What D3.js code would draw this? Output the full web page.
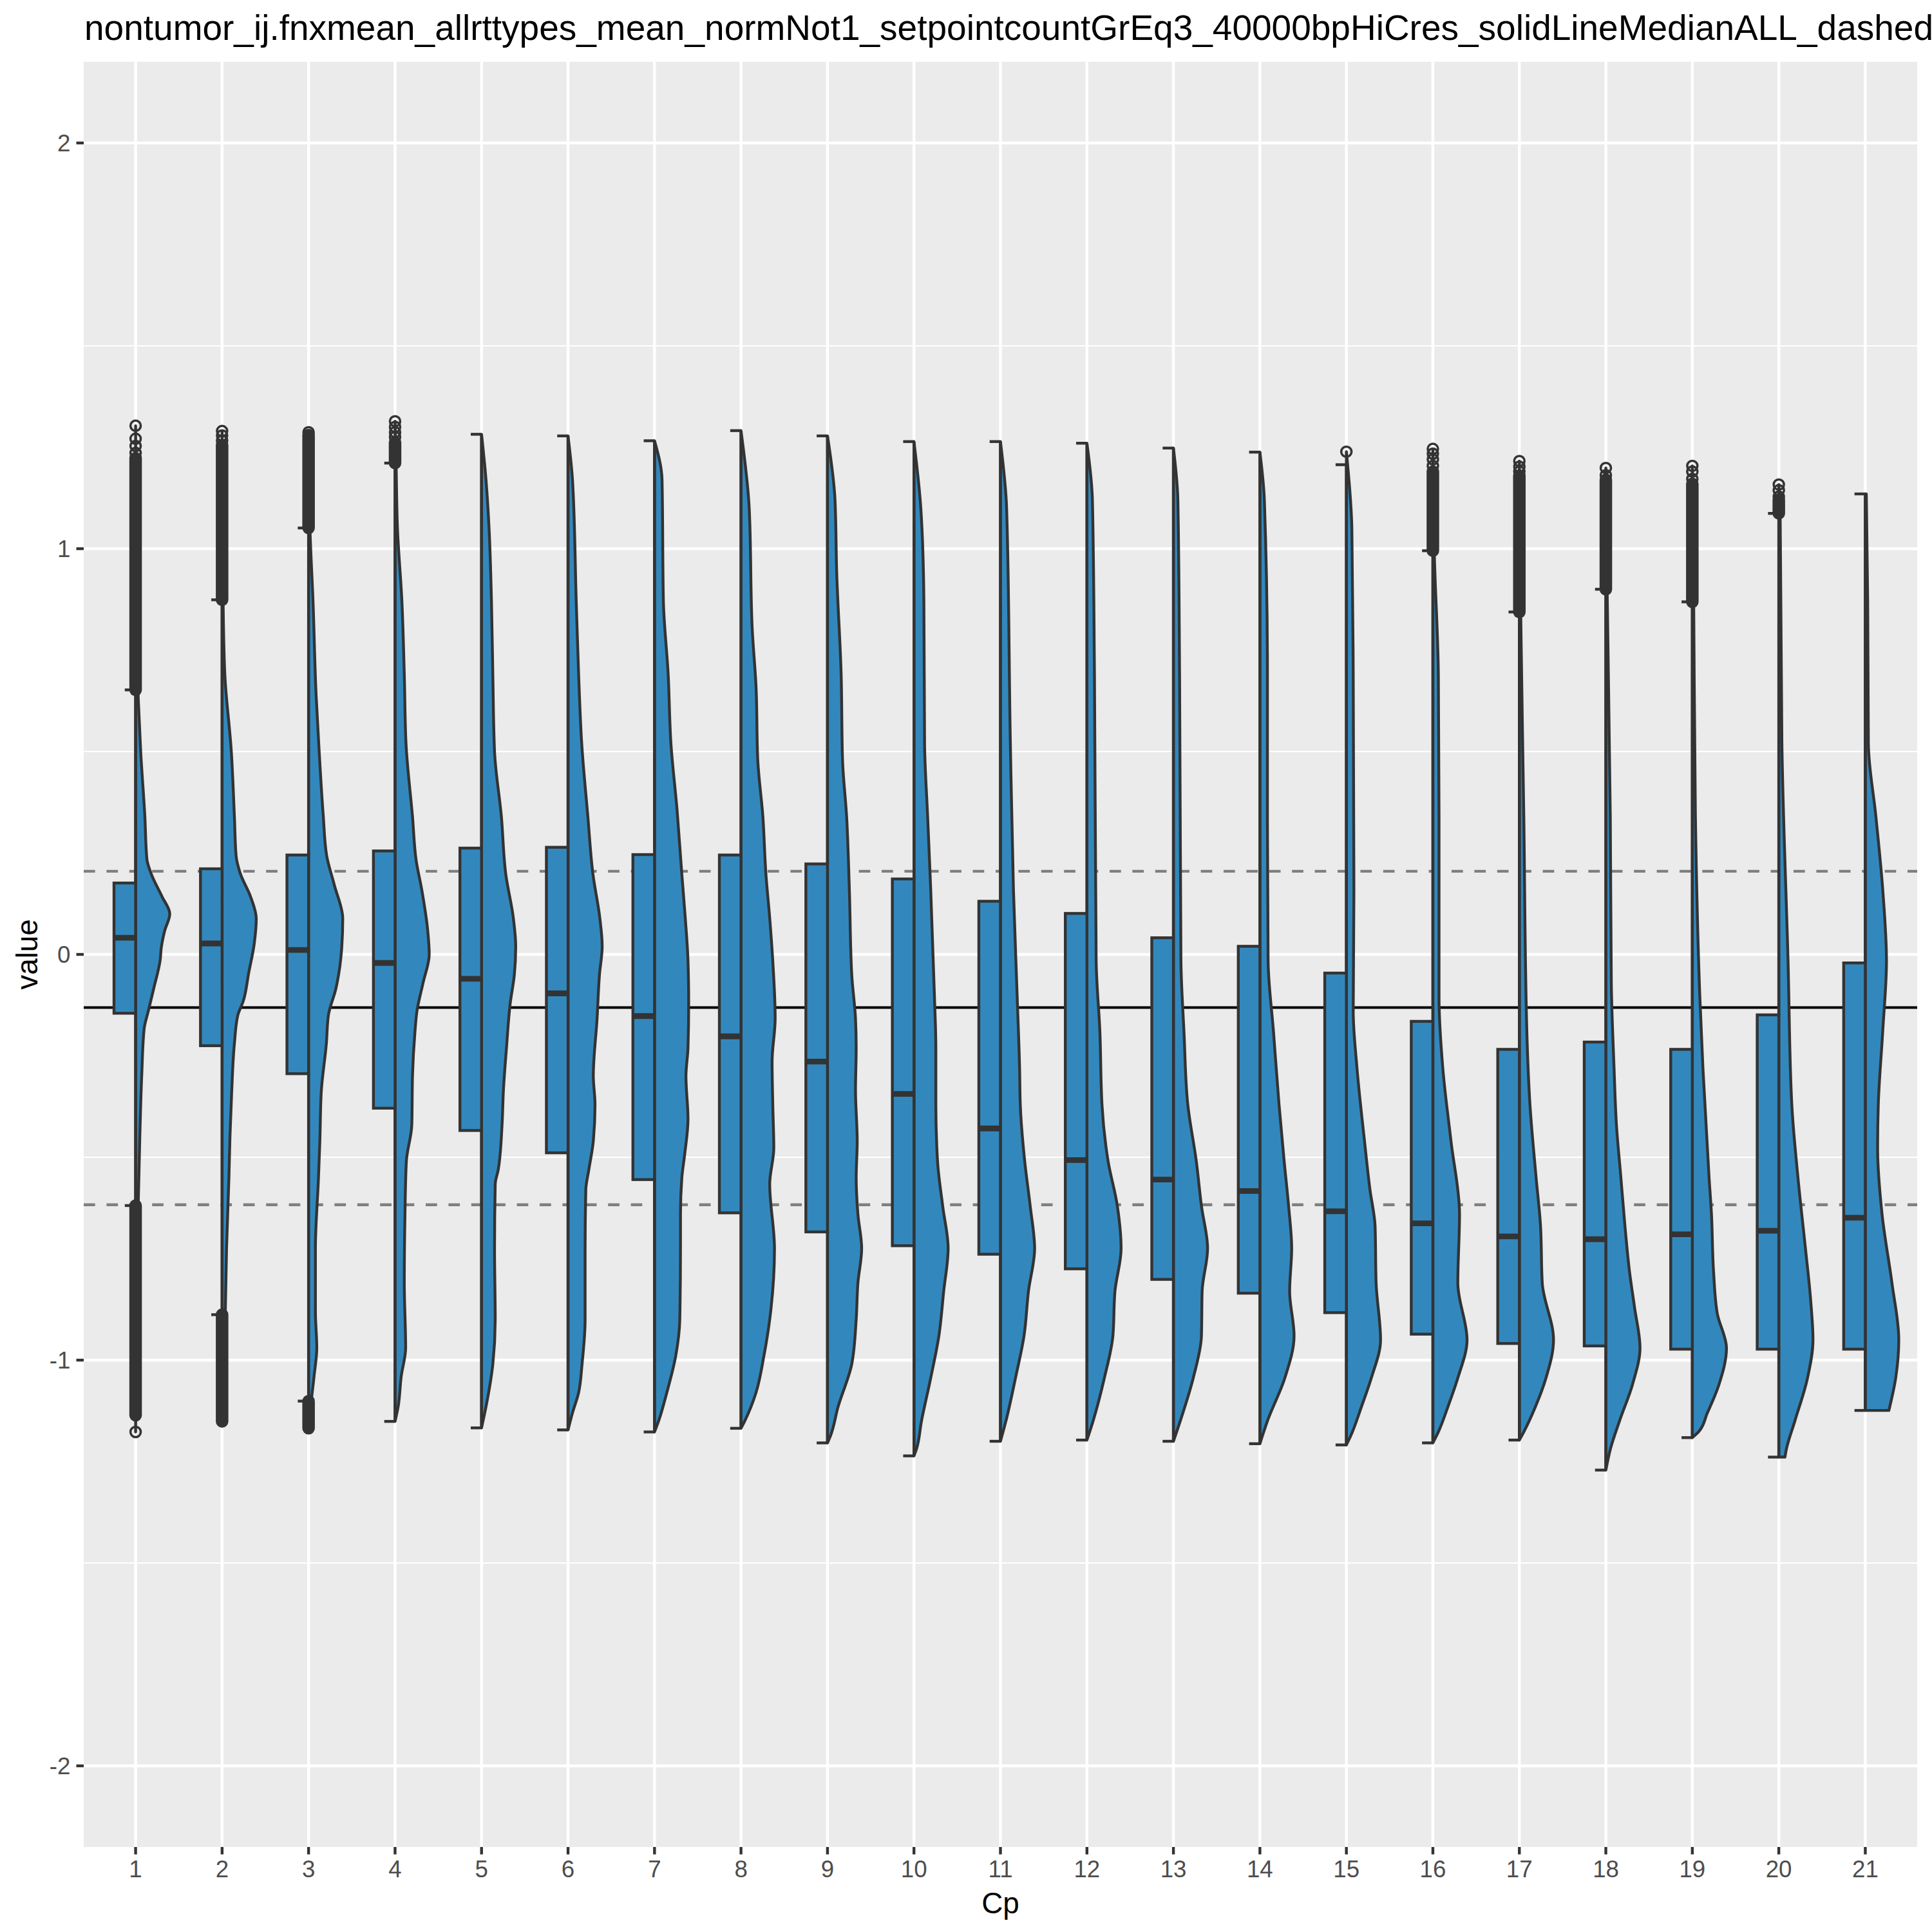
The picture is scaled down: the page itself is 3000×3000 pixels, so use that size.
<!DOCTYPE html>
<html><head><meta charset="utf-8">
<script src="https://cdn.jsdelivr.net/npm/d3@7"></script>
<style>body{margin:0;background:#fff}</style></head>
<body>
<svg id="chart" width="3000" height="3000"></svg>
<script>
// ---------------- data ----------------
const categories = ["1","2","3","4","5","6","7","8","9","10","11","12","13","14","15","16","17","18","19","20","21"];
const whiskerLow  = [-0.619,-0.888,-1.101,-1.151,-1.167,-1.172,-1.177,-1.168,-1.204,-1.236,-1.200,-1.197,-1.200,-1.206,-1.209,-1.204,-1.197,-1.271,-1.191,-1.239,-1.124];
const q1          = [-0.145,-0.225,-0.294,-0.379,-0.434,-0.489,-0.555,-0.637,-0.684,-0.718,-0.739,-0.775,-0.801,-0.835,-0.883,-0.936,-0.959,-0.965,-0.973,-0.973,-0.973];
const medians     = [0.041,0.027,0.011,-0.021,-0.060,-0.096,-0.152,-0.202,-0.264,-0.344,-0.429,-0.507,-0.555,-0.583,-0.633,-0.663,-0.695,-0.702,-0.690,-0.681,-0.649];
const q3          = [0.176,0.211,0.245,0.255,0.262,0.264,0.246,0.245,0.223,0.186,0.131,0.101,0.041,0.020,-0.046,-0.165,-0.234,-0.216,-0.234,-0.149,-0.021];
const whiskerHigh = [0.652,0.874,1.051,1.211,1.282,1.278,1.266,1.291,1.278,1.264,1.264,1.260,1.248,1.238,1.207,0.995,0.844,0.900,0.869,1.087,1.135];

// dense runs of overlapping outlier circles [from, to], and separately visible outliers
const outlierRunTop = [[0.652,1.223],[0.874,1.255],[1.051,1.280],[1.211,1.262],null,null,null,null,null,null,null,null,null,null,null,[0.995,1.190],[0.844,1.180],[0.900,1.170],[0.869,1.160],[1.087,1.120],null];
const outlierPtsTop = [[1.236,1.253,1.271,1.303],[1.266,1.279,1.290],[1.287],[1.275,1.287,1.300,1.314],[],[],[],[],[],[],[],[],[],[],[1.239],[1.204,1.220,1.234,1.246],[1.190,1.202,1.216],[1.181,1.199],[1.172,1.190,1.204],[1.128,1.144,1.158],[]];
const outlierRunBottom = [[-1.136,-0.619],[-1.151,-0.888],[-1.168,-1.101],null,null,null,null,null,null,null,null,null,null,null,null,null,null,null,null,null,null];
const outlierPtsBottom = [[-1.177],[],[],[],[],[],[],[],[],[],[],[],[],[],[],[],[],[],[],[],[]];

// half-violin profiles: [value, relative width]
const violinProfiles = [
 [[1.303,0],[0.9,0.02],[0.626,0.08],[0.498,0.15],[0.341,0.27],[0.235,0.33],[0.2,0.45],[0.143,0.77],[0.10,1.0],[0.058,0.85],[0.016,0.75],[-0.013,0.72],[-0.084,0.53],[-0.14,0.37],[-0.183,0.25],[-0.296,0.18],[-0.46,0.12],[-0.64,0.07],[-0.9,0.03],[-1.177,0]],
 [[1.290,0],[0.87,0.03],[0.69,0.08],[0.5,0.27],[0.34,0.36],[0.243,0.41],[0.2,0.53],[0.143,0.83],[0.088,1.0],[0.026,0.94],[-0.045,0.78],[-0.115,0.62],[-0.15,0.46],[-0.22,0.36],[-0.34,0.28],[-0.45,0.23],[-0.55,0.2],[-0.725,0.13],[-0.9,0.09],[-1.08,0.07],[-1.151,0]],
 [[1.287,0],[1.05,0.04],[0.87,0.13],[0.64,0.22],[0.5,0.31],[0.341,0.43],[0.243,0.53],[0.172,0.75],[0.088,1.0],[0.016,0.97],[-0.084,0.8],[-0.15,0.58],[-0.22,0.52],[-0.34,0.37],[-0.46,0.33],[-0.55,0.29],[-0.725,0.2],[-0.88,0.2],[-0.97,0.24],[-1.04,0.16],[-1.115,0.06],[-1.168,0]],
 [[1.314,0],[1.21,0.03],[1.05,0.07],[0.87,0.2],[0.69,0.27],[0.52,0.32],[0.34,0.51],[0.23,0.62],[0.16,0.78],[0.055,0.96],[0.0,1.0],[-0.07,0.82],[-0.14,0.64],[-0.193,0.58],[-0.30,0.51],[-0.42,0.49],[-0.51,0.33],[-0.64,0.29],[-0.81,0.27],[-0.97,0.31],[-1.04,0.18],[-1.115,0.09],[-1.151,0]],
 [[1.282,0],[1.17,0.13],[1.05,0.22],[0.87,0.29],[0.69,0.33],[0.5,0.38],[0.34,0.58],[0.197,0.71],[0.09,0.93],[0.02,1.0],[-0.05,0.96],[-0.12,0.84],[-0.23,0.73],[-0.335,0.64],[-0.42,0.6],[-0.53,0.49],[-0.566,0.4],[-0.725,0.38],[-0.9,0.4],[-1.01,0.33],[-1.115,0.13],[-1.167,0]],
 [[1.278,0],[1.17,0.13],[0.87,0.24],[0.69,0.31],[0.52,0.4],[0.34,0.58],[0.197,0.73],[0.09,0.93],[0.02,1.0],[-0.05,0.92],[-0.158,0.85],[-0.30,0.74],[-0.37,0.79],[-0.46,0.74],[-0.53,0.61],[-0.58,0.52],[-0.725,0.5],[-0.9,0.5],[-1.01,0.41],[-1.08,0.31],[-1.13,0.13],[-1.172,0]],
 [[1.266,0],[1.17,0.22],[0.87,0.26],[0.69,0.4],[0.52,0.48],[0.356,0.66],[0.197,0.8],[0.09,0.9],[-0.016,0.98],[-0.12,1.0],[-0.23,0.98],[-0.30,0.92],[-0.406,0.98],[-0.495,0.88],[-0.55,0.8],[-0.64,0.76],[-0.725,0.76],[-0.9,0.74],[-0.99,0.62],[-1.08,0.36],[-1.15,0.12],[-1.177,0]],
 [[1.291,0],[1.10,0.24],[0.80,0.33],[0.66,0.44],[0.48,0.49],[0.34,0.64],[0.197,0.73],[0.09,0.84],[-0.016,0.93],[-0.158,1.0],[-0.264,0.91],[-0.37,0.93],[-0.477,0.96],[-0.566,0.84],[-0.725,0.98],[-0.9,0.84],[-0.99,0.67],[-1.08,0.44],[-1.15,0.11],[-1.168,0]],
 [[1.278,0],[1.12,0.22],[0.94,0.27],[0.69,0.4],[0.48,0.44],[0.34,0.56],[0.16,0.64],[-0.05,0.71],[-0.158,0.82],[-0.23,0.84],[-0.335,0.82],[-0.46,0.87],[-0.55,0.84],[-0.64,0.89],[-0.725,1.0],[-0.81,0.89],[-0.9,0.84],[-1.01,0.71],[-1.115,0.31],[-1.186,0.09],[-1.204,0]],
 [[1.264,0],[1.10,0.2],[0.87,0.29],[0.52,0.31],[0.34,0.4],[0.16,0.49],[-0.105,0.6],[-0.23,0.64],[-0.37,0.64],[-0.51,0.69],[-0.62,0.84],[-0.725,1.0],[-0.83,0.87],[-0.94,0.73],[-1.044,0.49],[-1.15,0.22],[-1.22,0.07],[-1.236,0]],
 [[1.264,0],[1.10,0.18],[0.52,0.29],[0.16,0.38],[-0.105,0.49],[-0.28,0.56],[-0.37,0.58],[-0.51,0.71],[-0.62,0.87],[-0.725,1.0],[-0.83,0.82],[-0.94,0.69],[-1.044,0.44],[-1.15,0.16],[-1.2,0]],
 [[1.26,0],[1.12,0.16],[0.69,0.22],[-0.016,0.27],[-0.193,0.38],[-0.37,0.44],[-0.51,0.62],[-0.62,0.89],[-0.725,1.0],[-0.83,0.82],[-0.94,0.76],[-1.044,0.51],[-1.15,0.18],[-1.197,0]],
 [[1.248,0],[1.12,0.13],[0.69,0.18],[-0.016,0.22],[-0.193,0.31],[-0.37,0.42],[-0.51,0.67],[-0.62,0.82],[-0.725,1.0],[-0.83,0.84],[-0.94,0.82],[-1.044,0.58],[-1.15,0.2],[-1.2,0]],
 [[1.238,0],[1.12,0.13],[0.69,0.22],[0.34,0.22],[-0.016,0.24],[-0.193,0.4],[-0.37,0.56],[-0.51,0.71],[-0.62,0.84],[-0.725,0.93],[-0.83,0.87],[-0.94,1.0],[-1.044,0.73],[-1.15,0.22],[-1.206,0]],
 [[1.239,0],[1.05,0.16],[0.69,0.2],[0.16,0.22],[-0.14,0.2],[-0.28,0.31],[-0.46,0.53],[-0.58,0.69],[-0.67,0.84],[-0.81,0.87],[-0.95,1.0],[-1.044,0.73],[-1.115,0.44],[-1.186,0.13],[-1.209,0]],
 [[1.246,0],[0.995,0.04],[0.69,0.16],[0.34,0.18],[-0.105,0.18],[-0.28,0.29],[-0.46,0.53],[-0.64,0.78],[-0.81,0.73],[-0.95,1.0],[-1.044,0.73],[-1.115,0.44],[-1.177,0.16],[-1.204,0]],
 [[1.216,0],[0.84,0.04],[0.34,0.13],[-0.193,0.22],[-0.37,0.31],[-0.55,0.49],[-0.67,0.62],[-0.81,0.67],[-0.95,1.0],[-1.044,0.78],[-1.115,0.47],[-1.177,0.13],[-1.197,0]],
 [[1.199,0],[0.89,0.04],[0.34,0.13],[-0.07,0.16],[-0.28,0.24],[-0.42,0.31],[-0.55,0.44],[-0.67,0.56],[-0.78,0.69],[-0.87,0.84],[-0.97,1.0],[-1.06,0.78],[-1.15,0.4],[-1.22,0.13],[-1.271,0]],
 [[1.204,0],[0.87,0.04],[0.34,0.09],[-0.105,0.22],[-0.28,0.31],[-0.55,0.49],[-0.64,0.56],[-0.78,0.62],[-0.885,0.73],[-0.97,1.0],[-1.06,0.78],[-1.13,0.44],[-1.177,0.18],[-1.191,0]],
 [[1.158,0],[1.08,0.04],[0.52,0.09],[-0.016,0.27],[-0.37,0.38],[-0.55,0.56],[-0.725,0.78],[-0.85,0.93],[-0.95,1.0],[-1.044,0.84],[-1.15,0.47],[-1.22,0.22],[-1.239,0.18]],
 [[1.135,0.03],[0.87,0.07],[0.52,0.09],[0.34,0.31],[0.16,0.51],[-0.016,0.62],[-0.19,0.51],[-0.37,0.38],[-0.477,0.36],[-0.64,0.49],[-0.81,0.78],[-0.95,0.98],[-1.044,0.89],[-1.124,0.69]]
];

const medianAll = -0.131;
const dashedRefs = [0.205, -0.617];
const yTicks = [-2, -1, 0, 1, 2];
const yMinor = [-1.5, -0.5, 0.5, 1.5];
const titleText = "nontumor_ij.fnxmean_allrttypes_mean_normNot1_setpointcountGrEq3_40000bpHiCres_solidLineMedianALL_dashed";
const xTitle = "Cp", yTitle = "value";

// ---------------- layout ----------------
const FONT = "'Liberation Sans', Arial, Helvetica, sans-serif";
const panel = {l:130, r:2977, t:96, b:2868};
const fill = "#3288BD", ink = "#333333";
const lw = 4.4;

const svg = d3.select("#chart");
const x = d3.scalePoint().domain(categories).range([panel.l, panel.r]).padding(0.6);
const y = d3.scaleLinear().domain([-2.2, 2.2]).range([panel.b, panel.t]);
const unit = x.step();
const boxW = 0.25 * unit, stubW = 0.125 * unit, vHalf = 0.395 * unit;

svg.append("rect").attr("x",0).attr("y",0).attr("width",3000).attr("height",3000).attr("fill","#fff");
svg.append("rect").attr("x",panel.l).attr("y",panel.t).attr("width",panel.r-panel.l).attr("height",panel.b-panel.t).attr("fill","#EBEBEB");

const grid = svg.append("g");
grid.selectAll(".mn").data(yMinor).join("line")
  .attr("x1",panel.l).attr("x2",panel.r).attr("y1",d=>y(d)).attr("y2",d=>y(d))
  .attr("stroke","#fff").attr("stroke-width",lw/2);
grid.selectAll(".mj").data(yTicks).join("line")
  .attr("x1",panel.l).attr("x2",panel.r).attr("y1",d=>y(d)).attr("y2",d=>y(d))
  .attr("stroke","#fff").attr("stroke-width",lw);
grid.selectAll(".vx").data(categories).join("line")
  .attr("y1",panel.t).attr("y2",panel.b).attr("x1",d=>x(d)).attr("x2",d=>x(d))
  .attr("stroke","#fff").attr("stroke-width",lw);

// reference lines (under the marks)
const refs = svg.append("g");
refs.append("line").attr("x1",panel.l).attr("x2",panel.r).attr("y1",y(medianAll)).attr("y2",y(medianAll))
  .attr("stroke","#000").attr("stroke-width",4);
refs.selectAll(".dl").data(dashedRefs).join("line")
  .attr("x1",panel.l).attr("x2",panel.r).attr("y1",d=>y(d)).attr("y2",d=>y(d))
  .attr("stroke","#7F7F7F").attr("stroke-width",lw).attr("stroke-dasharray","17.7,17.7");

// violins
const marks = svg.append("g");
categories.forEach((c,i)=>{
  const cx = x(c);
  const area = d3.area().curve(d3.curveMonotoneY)
    .y(d=>y(d[0])).x0(cx).x1(d=>cx + d[1]*vHalf);
  marks.append("path").attr("d", area(violinProfiles[i]))
    .attr("fill",fill).attr("stroke",ink).attr("stroke-width",lw).attr("stroke-linejoin","round");
});

// half boxplots
categories.forEach((c,i)=>{
  const cx = x(c);
  const g = marks.append("g");
  // whiskers
  g.append("line").attr("x1",cx).attr("x2",cx).attr("y1",y(q3[i])).attr("y2",y(whiskerHigh[i])).attr("stroke",ink).attr("stroke-width",lw);
  g.append("line").attr("x1",cx).attr("x2",cx).attr("y1",y(q1[i])).attr("y2",y(whiskerLow[i])).attr("stroke",ink).attr("stroke-width",lw);
  g.append("line").attr("x1",cx-stubW).attr("x2",cx).attr("y1",y(whiskerHigh[i])).attr("y2",y(whiskerHigh[i])).attr("stroke",ink).attr("stroke-width",lw);
  g.append("line").attr("x1",cx-stubW).attr("x2",cx).attr("y1",y(whiskerLow[i])).attr("y2",y(whiskerLow[i])).attr("stroke",ink).attr("stroke-width",lw);
  // box
  g.append("rect").attr("x",cx-boxW).attr("width",boxW).attr("y",y(q3[i])).attr("height",y(q1[i])-y(q3[i]))
    .attr("fill",fill).attr("stroke",ink).attr("stroke-width",lw);
  g.append("line").attr("x1",cx-boxW).attr("x2",cx).attr("y1",y(medians[i])).attr("y2",y(medians[i]))
    .attr("stroke",ink).attr("stroke-width",lw*2);
  // outliers
  const r = 8;
  [outlierRunTop[i], outlierRunBottom[i]].forEach(run=>{
    if(!run) return;
    const yTop = y(run[1]), yBot = y(run[0]);
    g.append("rect").attr("x",cx-r-1.75).attr("width",2*r+3.5).attr("y",yTop-r-1.75).attr("height",yBot-yTop+2*r+3.5)
      .attr("rx",r+1.75).attr("fill",ink);
  });
  outlierPtsTop[i].concat(outlierPtsBottom[i]).forEach(v=>{
    g.append("circle").attr("cx",cx).attr("cy",y(v)).attr("r",r).attr("fill","none").attr("stroke",ink).attr("stroke-width",3.5);
  });
});

// axes
const axisG = svg.append("g");
axisG.selectAll(".yt").data(yTicks).join("line")
  .attr("x1",panel.l-11.5).attr("x2",panel.l).attr("y1",d=>y(d)).attr("y2",d=>y(d)).attr("stroke",ink).attr("stroke-width",lw);
axisG.selectAll(".yl").data(yTicks).join("text")
  .attr("x",panel.l-11.5-9.2).attr("y",d=>y(d)+13).attr("text-anchor","end")
  .attr("font-family",FONT).attr("font-size",36.7).attr("fill","#4D4D4D").text(d=>String(d));
axisG.selectAll(".xt").data(categories).join("line")
  .attr("x1",d=>x(d)).attr("x2",d=>x(d)).attr("y1",panel.b).attr("y2",panel.b+11.5).attr("stroke",ink).attr("stroke-width",lw);
axisG.selectAll(".xl").data(categories).join("text")
  .attr("x",d=>x(d)).attr("y",2915).attr("text-anchor","middle")
  .attr("font-family",FONT).attr("font-size",36.7).attr("fill","#4D4D4D").text(d=>d);

svg.append("text").attr("x",(panel.l+panel.r)/2).attr("y",2971).attr("text-anchor","middle")
  .attr("font-family",FONT).attr("font-size",45.8).attr("fill","#000").text(xTitle);
svg.append("text").attr("transform",`translate(58,${(panel.t+panel.b)/2}) rotate(-90)`).attr("text-anchor","middle")
  .attr("font-family",FONT).attr("font-size",45.8).attr("fill","#000").text(yTitle);
svg.append("text").attr("x",131).attr("y",62)
  .attr("font-family",FONT).attr("font-size",55).attr("fill","#000").text(titleText);
</script>
</body></html>
